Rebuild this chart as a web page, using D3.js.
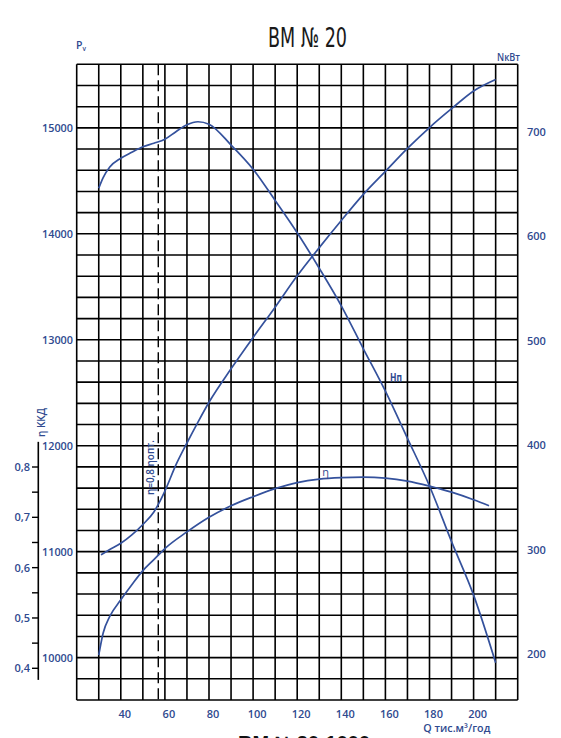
<!DOCTYPE html>
<html>
<head>
<meta charset="utf-8">
<script src="https://cdn.jsdelivr.net/npm/d3@7"></script>
<style>
  html, body { margin:0; padding:0; background:#fff; }
  svg { display:block; }
  text { font-family: "Open Sans", "Liberation Sans", Arial, sans-serif; }
</style>
</head>
<body>
<svg id="chart" width="561" height="738"></svg>
<script>
// ---------- DATA ----------
const title = "ВМ № 20";
const qTicks = [40, 60, 80, 100, 120, 140, 160, 180, 200];
const pvTicks = [10000, 11000, 12000, 13000, 14000, 15000];
const nTicks = [200, 300, 400, 500, 600, 700];
const etaTicks = [0.4, 0.5, 0.6, 0.7, 0.8];
const etaMinorTicks = [0.45, 0.55, 0.65, 0.75];

// Pressure curve Hп (Pv, Pa)
const qH  = [30, 32, 35, 40, 45, 50, 55, 60, 65, 70, 75, 80, 90, 100, 110, 120, 130, 140, 150, 160, 170, 180, 190, 200, 210];
const pvH = [14430, 14530, 14630, 14713, 14770, 14822, 14855, 14893, 14964, 15030, 15058, 15035, 14838, 14610, 14315, 14010, 13675, 13320, 12915, 12515, 12070, 11620, 11095, 10590, 9952];

// Power curve N (kW)
const qN = [31, 35, 40, 45, 50, 55, 60, 65, 70, 75, 80, 90, 100, 110, 120, 130, 140, 150, 160, 170, 180, 190, 200, 210];
const nN = [295, 300, 306, 314, 324, 336, 356, 381, 402, 422, 441, 473, 503, 532, 562, 589, 615, 640, 662, 684, 704, 722, 739, 750];

// Efficiency curve η
const qE = [30, 32, 35, 40, 45, 50, 55, 60, 70, 80, 90, 100, 110, 120, 130, 140, 150, 160, 170, 180, 190, 200, 207];
const eE = [0.426, 0.470, 0.503, 0.536, 0.566, 0.594, 0.616, 0.638, 0.671, 0.700, 0.723, 0.741, 0.757, 0.769, 0.776, 0.779, 0.780, 0.778, 0.772, 0.762, 0.750, 0.735, 0.723];

const qOpt = 57; // η = 0,8 ηопт.

// ---------- LAYOUT ----------
const L = 76.7, R = 517.7, T = 64.3, B = 700;
const blue = "#2f4a8f";
const curveBlue = "#34519c";
const labelFont = 11;
const labelWeight = 600;

const x  = d3.scaleLinear().domain([20, 220]).range([L, R]);
const yP = d3.scaleLinear().domain([9600, 15600]).range([B, T]);
const yN = d3.scaleLinear().domain([200, 700]).range([654, 131.7]);
const yE = d3.scaleLinear().domain([0.4, 0.8]).range([668.3, 467]);

const svg = d3.select("#chart");

// grid
const g = svg.append("g").attr("stroke", "#000").attr("stroke-width", 1.6).attr("fill", "none");
g.selectAll("line.v").data(d3.range(20, 221, 10)).join("line")
  .attr("x1", d => x(d)).attr("x2", d => x(d)).attr("y1", T).attr("y2", B);
g.selectAll("line.h").data(d3.range(9600, 15601, 200)).join("line")
  .attr("y1", d => yP(d)).attr("y2", d => yP(d)).attr("x1", L).attr("x2", R);

// dashed optimum line
svg.append("line")
  .attr("x1", x(qOpt)).attr("x2", x(qOpt)).attr("y1", T).attr("y2", B)
  .attr("stroke", "#000").attr("stroke-width", 1.4).attr("stroke-dasharray", "11,5");

// curves
const lineGen = (xs, ys, ysc) => d3.line()
  .x((d, i) => x(xs[i])).y((d, i) => ysc(ys[i]))
  .curve(d3.curveMonotoneX)(xs);

[[qH, pvH, yP], [qN, nN, yN], [qE, eE, yE]].forEach(([xs, ys, sc]) => {
  svg.append("path").attr("d", lineGen(xs, ys, sc))
    .attr("fill", "none").attr("stroke", curveBlue).attr("stroke-width", 1.7);
});

// x tick labels
svg.append("g").selectAll("text").data(qTicks).join("text")
  .attr("x", d => x(d) + 4).attr("y", 717.5)
  .attr("text-anchor", "middle").attr("font-size", labelFont).attr("font-weight", labelWeight).attr("fill", blue)
  .text(d => d);

// Pv labels (left)
svg.append("g").selectAll("text").data(pvTicks).join("text")
  .attr("x", 73).attr("y", d => yP(d) + 4)
  .attr("text-anchor", "end").attr("font-size", labelFont).attr("font-weight", labelWeight).attr("fill", blue)
  .attr("textLength", 31).attr("lengthAdjust", "spacingAndGlyphs")
  .text(d => d);

// N labels (right)
svg.append("g").selectAll("text").data(nTicks).join("text")
  .attr("x", 527).attr("y", d => yN(d) + 4)
  .attr("text-anchor", "start").attr("font-size", labelFont).attr("font-weight", labelWeight).attr("fill", blue)
  .text(d => d);

// η axis
svg.append("line").attr("x1", 38.3).attr("x2", 38.3)
  .attr("y1", yE(0.85)).attr("y2", yE(0.377))
  .attr("stroke", "#000").attr("stroke-width", 1.6);
svg.append("g").selectAll("line").data(etaTicks.concat(etaMinorTicks)).join("line")
  .attr("x1", 32).attr("x2", 38.3).attr("y1", d => yE(d)).attr("y2", d => yE(d))
  .attr("stroke", "#000").attr("stroke-width", 1.4);
svg.append("g").selectAll("text").data(etaTicks).join("text")
  .attr("x", 30).attr("y", d => yE(d) + 4)
  .attr("text-anchor", "end").attr("font-size", labelFont).attr("font-weight", labelWeight).attr("fill", blue)
  .text(d => d.toFixed(1).replace(".", ","));

// texts
svg.append("text").attr("x", 307.5).attr("y", 46.7).attr("text-anchor", "middle")
  .attr("font-size", 27).attr("fill", "#1a1a1a")
  .attr("textLength", 79).attr("lengthAdjust", "spacingAndGlyphs")
  .style("font-family", "'Liberation Sans Narrow', 'DejaVu Sans Condensed', sans-serif")
  .text(title);

const pv = svg.append("text").attr("x", 76).attr("y", 49).attr("font-size", 10.5).attr("font-weight", labelWeight).attr("fill", blue);
pv.append("tspan").text("P");
pv.append("tspan").attr("font-size", 6.5).attr("dy", 1.5).text("v");

svg.append("text").attr("x", 497).attr("y", 60.7).attr("font-size", 11).attr("font-weight", labelWeight).attr("fill", blue)
  .attr("textLength", 23).attr("lengthAdjust", "spacingAndGlyphs").text("NкВт");

svg.append("text").attr("x", 423.3).attr("y", 731.5).attr("font-size", 11).attr("font-weight", labelWeight).attr("fill", blue)
  .attr("textLength", 67).attr("lengthAdjust", "spacingAndGlyphs").text("Q тис.м³/год");

svg.append("text").attr("x", 390).attr("y", 381.5).attr("font-size", 12).attr("font-weight", "bold").attr("fill", blue)
  .attr("textLength", 12).attr("lengthAdjust", "spacingAndGlyphs").text("Hп");

svg.append("text").attr("x", 325.5).attr("y", 476).attr("text-anchor", "middle").attr("font-size", 11).attr("fill", blue)
  .text("η");

svg.append("text").attr("transform", "translate(45,437) rotate(-90)").attr("font-size", 11).attr("font-weight", labelWeight).attr("fill", blue)
  .attr("textLength", 29).attr("lengthAdjust", "spacingAndGlyphs").text("η ККД");

svg.append("text").attr("transform", "translate(154,495) rotate(-90)").attr("font-size", 11).attr("font-weight", labelWeight).attr("fill", blue)
  .attr("textLength", 55).attr("lengthAdjust", "spacingAndGlyphs").text("η=0,8 ηопт.");

svg.append("text").attr("x", 238).attr("y", 749).attr("font-size", 18).attr("font-weight", "bold").attr("fill", "#111")
  .style("font-family", "'Liberation Sans', Arial, sans-serif")
  .attr("textLength", 132).attr("lengthAdjust", "spacingAndGlyphs").text("ВМ №20-1000");
</script>
</body>
</html>
